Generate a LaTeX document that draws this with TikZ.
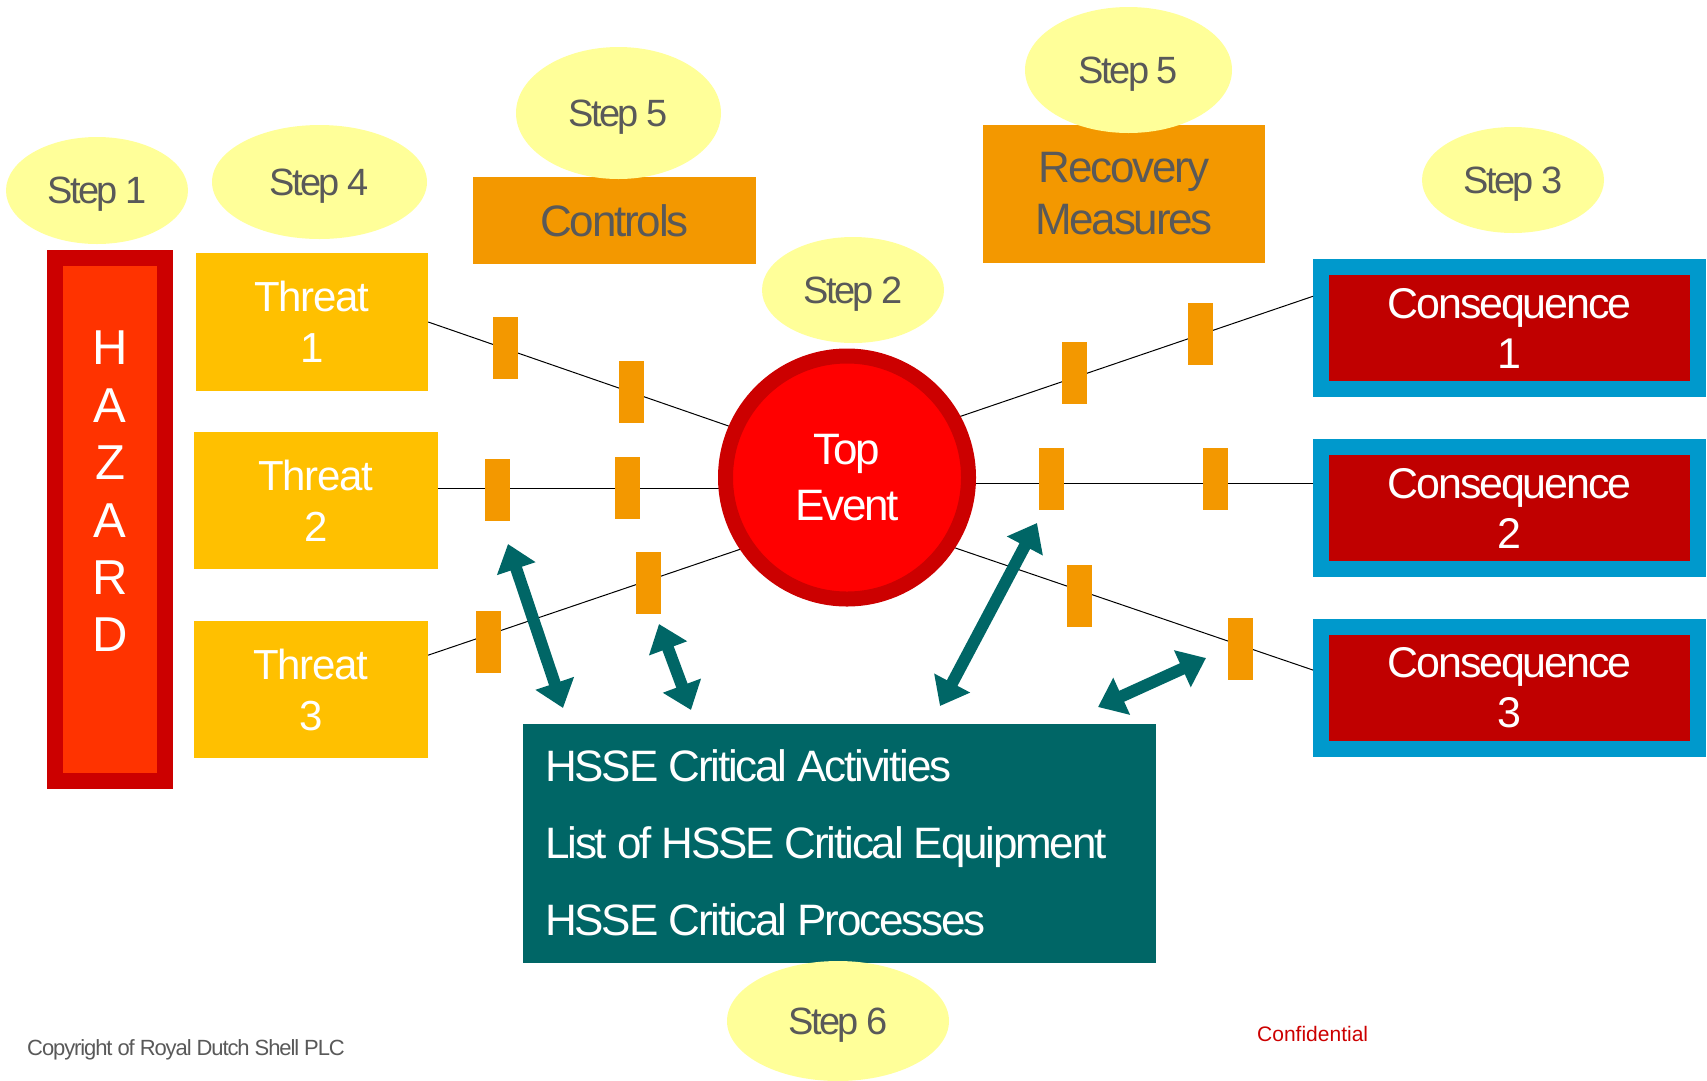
\documentclass[tikz,border=0pt]{standalone}
\usepackage{fontspec}
\setmainfont{Liberation Sans}
\newfontfamily\tightfont[LetterSpace=-5]{Liberation Sans}
\newfontfamily\threatfont[LetterSpace=-3]{Liberation Sans}
\newfontfamily\stepfont[LetterSpace=-7]{Liberation Sans}
\usetikzlibrary{arrows.meta,shapes.geometric,calc}
\definecolor{stepfill}{HTML}{FFFF99}
\definecolor{steptext}{HTML}{595959}
\definecolor{threatc}{HTML}{FFC000}
\definecolor{ctrlc}{HTML}{F39800}
\definecolor{hazout}{HTML}{CC0000}
\definecolor{hazin}{HTML}{FF3300}
\definecolor{teout}{HTML}{CC0000}
\definecolor{tein}{HTML}{FF0000}
\definecolor{consout}{HTML}{0099CC}
\definecolor{consin}{HTML}{C00000}
\definecolor{tealc}{HTML}{006666}
\definecolor{confc}{HTML}{CC0000}
\begin{document}
\begin{tikzpicture}[x=1pt,y=-1pt,
  stepnode/.style={ellipse, fill=stepfill, inner sep=0pt, text=steptext, text depth=0pt,
    font=\stepfont\fontsize{38}{45}\selectfont},
  threatbox/.style={rectangle, fill=threatc, inner sep=0pt, text=white, align=center,
    font=\threatfont\fontsize{42}{51}\selectfont},
  ctrlbox/.style={rectangle, fill=ctrlc, inner sep=0pt, text=steptext, align=center,
    font=\tightfont\fontsize{44}{52}\selectfont},
  consbox/.style={rectangle, draw=consout, line width=16pt, fill=consin, inner sep=0pt,
    text=white, align=center, minimum width=377pt, minimum height=122pt,
    font=\tightfont\fontsize{43}{50}\selectfont},
  barrier/.style={rectangle, fill=ctrlc, inner sep=0pt, minimum width=25pt, minimum height=62pt},
  conn/.style={draw=black, line width=1pt},
  bigarrow/.style={draw=tealc, line width=12pt,
    arrows={Triangle[width=39pt,length=26pt]-Triangle[width=39pt,length=26pt]}}
]
\useasboundingbox (0,0) rectangle (1707,1080);

% --- nodes (boxes)
\node[threatbox, minimum width=232pt, minimum height=138pt] (t1) at (312,322) {Threat\\1};
\node[threatbox, minimum width=244pt, minimum height=137pt] (t2) at (316,500.5) {Threat\\2};
\node[threatbox, minimum width=234pt, minimum height=137pt] (t3) at (311,689.5) {Threat\\3};
\node[consbox] (c1) at (1509.5,328) {Consequence\\1};
\node[consbox] (c2) at (1509.5,508) {Consequence\\2};
\node[consbox] (c3) at (1509.5,688) {Consequence\\3};

% --- junction points hidden under the top event
\coordinate (j1) at (847,467);
\coordinate (j2) at (847,488);
\coordinate (j3) at (847,513);
\coordinate (j4) at (847,455);
\coordinate (j5) at (847,483);
\coordinate (j6) at (847,511);

% --- connectors
\draw[conn] (t1.east) -- (j1);
\draw[conn] (t2.east |- j2) -- (j2);
\draw[conn] ($(t3.north east)!0.25!(t3.south east)$) -- (j3);
\draw[conn] (j4) -- ($(c1.north west)!0.27!(c1.south west)$);
\draw[conn] (j5) -- (c2.west |- j5);
\draw[conn] (j6) -- ($(c3.north west)!0.37!(c3.south west)$);

% --- barriers
\node[barrier] (b11) at (505,348) {};
\node[barrier] (b12) at (631.5,392) {};
\node[barrier] (b21) at (497.5,490) {};
\node[barrier] (b22) at (627,488) {};
\node[barrier] (b31) at (488.5,642) {};
\node[barrier] (b32) at (648.5,583) {};
\node[barrier] (r11) at (1074.5,373) {};
\node[barrier] (r12) at (1200,334) {};
\node[barrier] (r21) at (1051.5,479) {};
\node[barrier] (r22) at (1215.5,479) {};
\node[barrier] (r31) at (1079.5,596) {};
\node[barrier] (r32) at (1240.5,649) {};

% --- hazard
\node[rectangle, draw=hazout, line width=16pt, fill=hazin, inner sep=0pt,
      minimum width=110pt, minimum height=523pt] (haz) at (110,519.5) {};
\node[text=white, align=center, inner sep=0pt, font=\fontsize{49}{57.4}\selectfont]
      (hazt) at (110,491.5) {H\\A\\Z\\A\\R\\D};

% --- top event
\node[circle, draw=teout, line width=15pt, fill=tein, minimum size=243pt, inner sep=0pt,
      text=white, align=center, font=\tightfont\fontsize{44}{56}\selectfont]
      (te) at (847,477.5) {Top\\Event};

% --- controls and recovery
\node[ctrlbox, minimum width=283pt, minimum height=87pt] (ctrl) at (614.5,220.5) {Controls};
\node[ctrlbox, minimum width=282pt, minimum height=138pt] (rec) at (1124,194) {Recovery\\Measures};

% --- HSSE box
\node[rectangle, fill=tealc, inner sep=0pt, minimum width=633pt, minimum height=239pt]
      (hsse) at (839.5,843.5) {};
\node[anchor=base west, inner sep=0pt, text=white, align=left,
      font=\tightfont\fontsize{44}{77}\selectfont] (hsset) at (545,935)
      {HSSE Critical Activities\\List of HSSE Critical Equipment\\HSSE Critical Processes};

% --- step ellipses
\node[stepnode, minimum width=182pt, minimum height=107pt] (s1) at (97,190.5) {Step 1};
\node[stepnode, minimum width=215pt, minimum height=114pt] (s4) at (319.5,182) {Step 4};
\node[stepnode, minimum width=205pt, minimum height=132pt] (s5a) at (618.5,113) {Step 5};
\node[stepnode, minimum width=207pt, minimum height=126pt] (s5b) at (1128.5,70) {Step 5};
\node[stepnode, minimum width=182pt, minimum height=106pt] (s2) at (853,290) {Step 2};
\node[stepnode, minimum width=182pt, minimum height=106pt] (s3) at (1513,180) {Step 3};
\node[stepnode, minimum width=222pt, minimum height=120pt] (s6) at (838,1021) {Step 6};

% --- double arrows
\coordinate (a1s) at (508,544);  \coordinate (a1e) at (563,708);
\coordinate (a2s) at (659,624);  \coordinate (a2e) at (691,710);
\coordinate (a3s) at (1037,523); \coordinate (a3e) at (940,706);
\coordinate (a4s) at (1206,658); \coordinate (a4e) at (1098,707);
\draw[bigarrow] (a1s) -- (a1e);
\draw[bigarrow] (a2s) -- (a2e);
\draw[bigarrow] (a3s) -- (a3e);
\draw[bigarrow] (a4s) -- (a4e);

% --- footer
\node[anchor=base west, inner sep=0pt, text=steptext,
      font=\tightfont\fontsize{22}{26}\selectfont] (copy) at (27,1055)
      {Copyright of Royal Dutch Shell PLC};
\node[anchor=base west, inner sep=0pt, text=confc,
      font=\fontsize{21}{25}\selectfont] (conf) at (1257,1041) {Confidential};
\end{tikzpicture}
\end{document}
